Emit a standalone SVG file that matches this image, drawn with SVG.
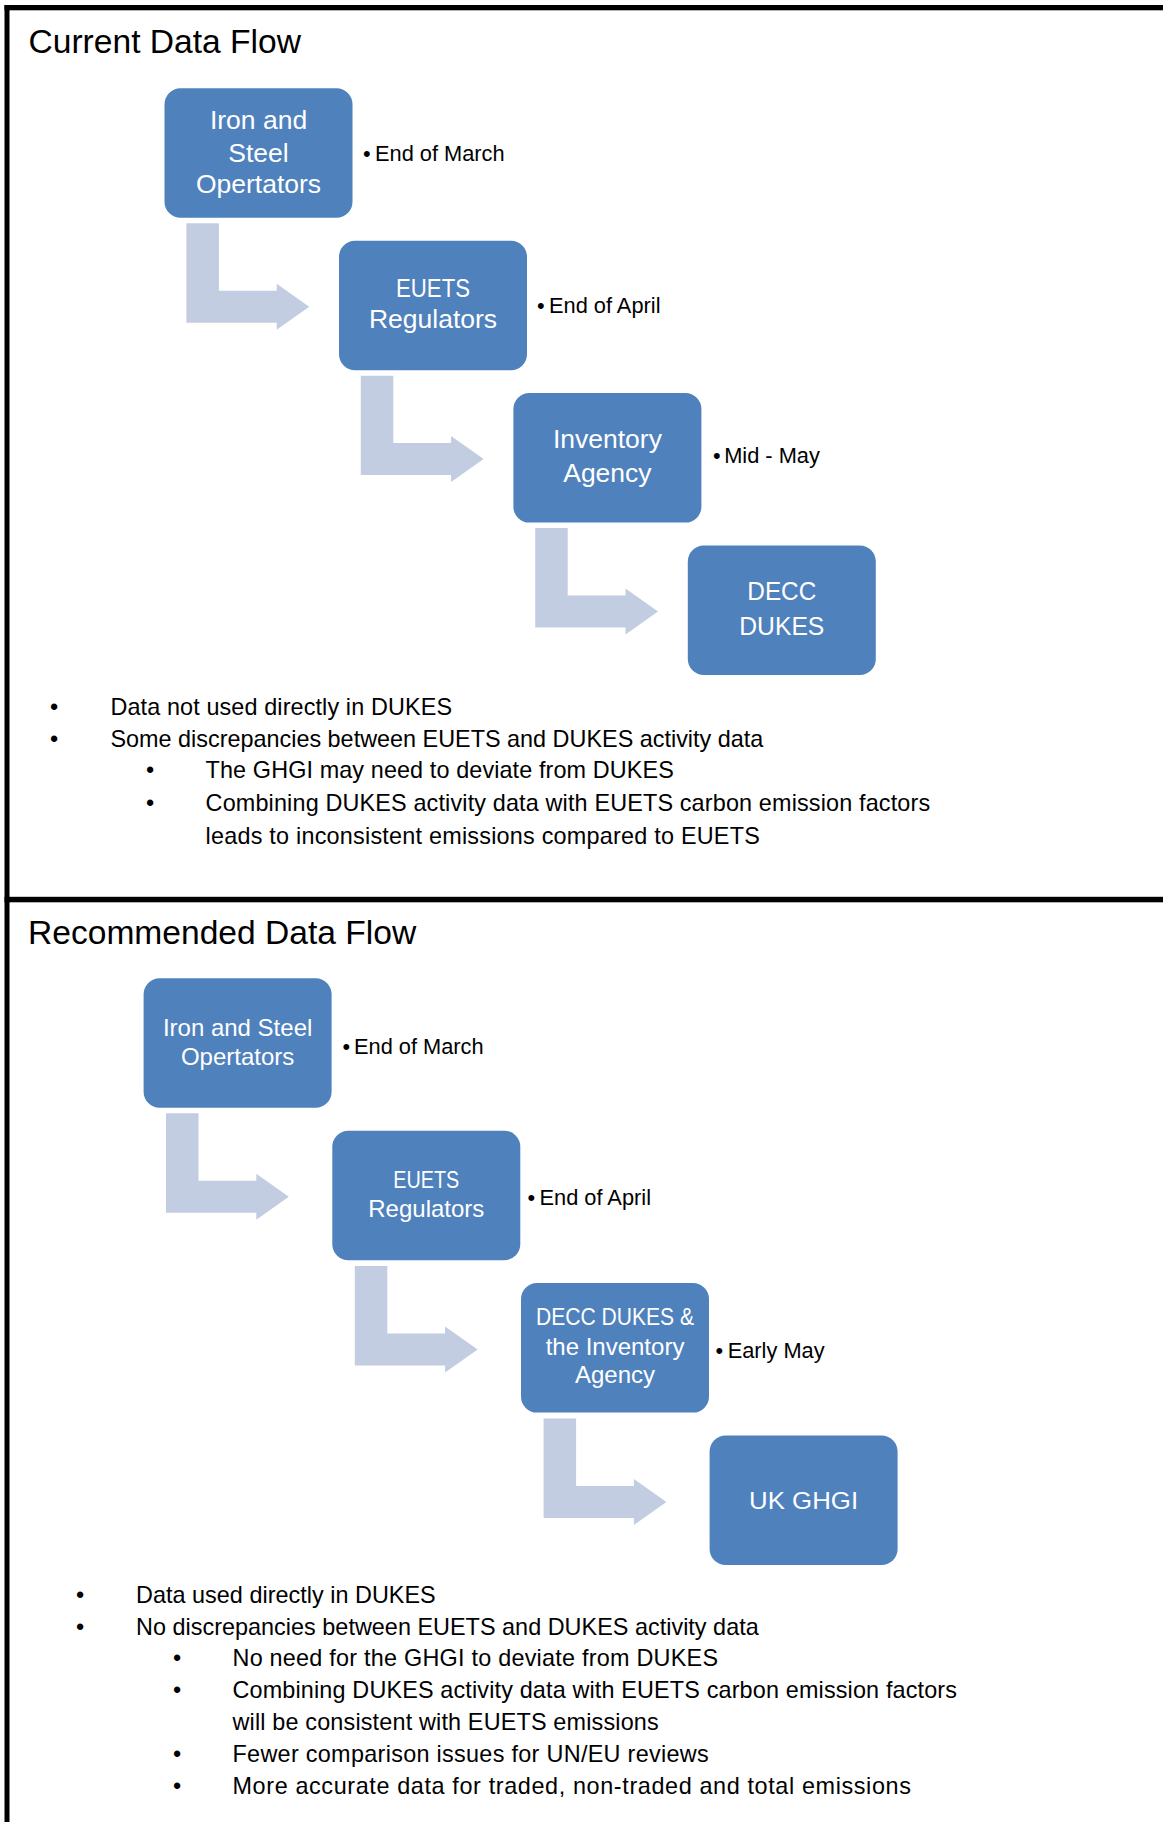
<svg xmlns="http://www.w3.org/2000/svg" xmlns:xlink="http://www.w3.org/1999/xlink" width="1163" height="1822" viewBox="0 0 1163 1822">
<style>
  text { font-family: "Liberation Sans", Arial, sans-serif; }
  .frame { fill: #000000; }
  .title { font-size: 33.6px; fill: #000000; }
  .node { fill: #4F81BD; }
  .nt { font-size: 26.5px; fill: #FFFFFF; text-anchor: middle; }
  .nb { font-size: 24px; fill: #FFFFFF; text-anchor: middle; }
  .side { font-size: 21.8px; fill: #000000; }
  .body { font-size: 23.4px; fill: #000000; }
  .arrow { fill: #C2CDE2; }
</style>
<defs>
  <path id="bent" d="M0,0 H32.5 V67.4 H90.3 V60.4 L122.8,83.4 L90.3,106.4 V99.4 H0 Z"/>
</defs>
<rect width="1163" height="1822" fill="#FFFFFF"/>
<g id="frame">
  <rect class="frame" x="4.5" y="5" width="1158.5" height="5.3"/>
  <rect class="frame" x="4.5" y="5" width="5" height="1817"/>
  <rect class="frame" x="4.5" y="896.8" width="1158.5" height="5.5"/>
</g>
<text class="title" x="28.5" y="53.3">Current Data Flow</text>
<text class="title" x="28" y="944">Recommended Data Flow</text>
<g id="connectors">
  <use class="arrow" xlink:href="#bent" href="#bent" x="186.4" y="223.3"/>
  <use class="arrow" xlink:href="#bent" href="#bent" x="360.8" y="375.7"/>
  <use class="arrow" xlink:href="#bent" href="#bent" x="535.2" y="528.1"/>
  <use class="arrow" xlink:href="#bent" href="#bent" x="166" y="1113.3"/>
  <use class="arrow" xlink:href="#bent" href="#bent" x="354.8" y="1266"/>
  <use class="arrow" xlink:href="#bent" href="#bent" x="543.6" y="1418.6"/>
</g>
<g id="cur-operators">
  <rect class="node" x="164.5" y="88.3" width="188" height="129.5" rx="16"/>
  <text class="nt" x="258.5" y="129.3">Iron and</text>
  <text class="nt" x="258.5" y="161.7">Steel</text>
  <text class="nt" x="258.5" y="192.7">Opertators</text>
</g>
<g id="cur-regulators">
  <rect class="node" x="339" y="240.7" width="188" height="129.5" rx="16"/>
  <text class="nt" x="433" y="296.7" textLength="74" lengthAdjust="spacingAndGlyphs">EUETS</text>
  <text class="nt" x="433" y="328.3">Regulators</text>
</g>
<g id="cur-agency">
  <rect class="node" x="513.4" y="393.1" width="188" height="129.5" rx="16"/>
  <text class="nt" x="607.4" y="448.3">Inventory</text>
  <text class="nt" x="607.4" y="481.7">Agency</text>
</g>
<g id="cur-dukes">
  <rect class="node" x="687.8" y="545.5" width="188" height="129.5" rx="16"/>
  <text class="nt" x="781.8" y="600" font-size="27" textLength="69" lengthAdjust="spacingAndGlyphs">DECC</text>
  <text class="nt" x="781.8" y="635" font-size="27" textLength="85" lengthAdjust="spacingAndGlyphs">DUKES</text>
</g>
<g id="rec-operators">
  <rect class="node" x="143.6" y="978.3" width="188" height="129.5" rx="16"/>
  <text class="nb" x="237.6" y="1036">Iron and Steel</text>
  <text class="nb" x="237.6" y="1065">Opertators</text>
</g>
<g id="rec-regulators">
  <rect class="node" x="332.3" y="1130.7" width="188" height="129.5" rx="16"/>
  <text class="nb" x="426.3" y="1188.3" textLength="66" lengthAdjust="spacingAndGlyphs">EUETS</text>
  <text class="nb" x="426.3" y="1217.3">Regulators</text>
</g>
<g id="rec-dukes-agency">
  <rect class="node" x="521" y="1283.1" width="188" height="129.5" rx="16"/>
  <text class="nb" x="615" y="1325" textLength="158" lengthAdjust="spacingAndGlyphs">DECC DUKES &amp;</text>
  <text class="nb" x="615" y="1355">the Inventory</text>
  <text class="nb" x="615" y="1383.3">Agency</text>
</g>
<g id="rec-ukghgi">
  <rect class="node" x="709.6" y="1435.5" width="188" height="129.5" rx="16"/>
  <text class="nb" x="803.6" y="1509.3" font-size="27" textLength="109" lengthAdjust="spacingAndGlyphs">UK GHGI</text>
</g>
<g id="timings">
  <text class="side" y="161"><tspan x="363">•</tspan><tspan x="375">End of March</tspan></text>
  <text class="side" y="313.3"><tspan x="537">•</tspan><tspan x="549">End of April</tspan></text>
  <text class="side" y="463.3"><tspan x="713">•</tspan><tspan x="724.2">Mid - May</tspan></text>
  <text class="side" y="1054"><tspan x="342.5">•</tspan><tspan x="354">End of March</tspan></text>
  <text class="side" y="1205"><tspan x="527.5">•</tspan><tspan x="539.5">End of April</tspan></text>
  <text class="side" y="1358.3"><tspan x="715.5">•</tspan><tspan x="727.7">Early May</tspan></text>
</g>
<g id="current-notes">
  <text class="body" x="50" y="714.5">•</text>
  <text class="body" x="110.4" y="714.5" textLength="341.6">Data not used directly in DUKES</text>
  <text class="body" x="50" y="747">•</text>
  <text class="body" x="110.4" y="747" textLength="652.9">Some discrepancies between EUETS and DUKES activity data</text>
  <text class="body" x="146" y="778.4">•</text>
  <text class="body" x="205.6" y="778.4" textLength="468.2">The GHGI may need to deviate from DUKES</text>
  <text class="body" x="146" y="811">•</text>
  <text class="body" x="205.6" y="811" textLength="724.5">Combining DUKES activity data with EUETS carbon emission factors</text>
  <text class="body" x="205.6" y="843.5" textLength="554.2">leads to inconsistent emissions compared to EUETS</text>
</g>
<g id="recommended-notes">
  <text class="body" x="76" y="1602.7">•</text>
  <text class="body" x="136" y="1602.7" textLength="299.7">Data used directly in DUKES</text>
  <text class="body" x="76" y="1634.5">•</text>
  <text class="body" x="136" y="1634.5" textLength="622.7">No discrepancies between EUETS and DUKES activity data</text>
  <text class="body" x="173" y="1666.3">•</text>
  <text class="body" x="232.5" y="1666.3" textLength="485.5">No need for the GHGI to deviate from DUKES</text>
  <text class="body" x="173" y="1698.1">•</text>
  <text class="body" x="232.5" y="1698.1" textLength="724.5">Combining DUKES activity data with EUETS carbon emission factors</text>
  <text class="body" x="232.5" y="1729.9" textLength="426.2">will be consistent with EUETS emissions</text>
  <text class="body" x="173" y="1761.7">•</text>
  <text class="body" x="232.5" y="1761.7" textLength="476.2">Fewer comparison issues for UN/EU reviews</text>
  <text class="body" x="173" y="1793.5">•</text>
  <text class="body" x="232.5" y="1793.5" textLength="678.4">More accurate data for traded, non-traded and total emissions</text>
</g>
</svg>
